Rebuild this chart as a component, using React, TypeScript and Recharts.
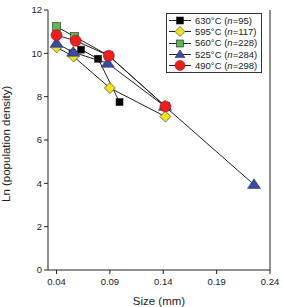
import {
  ScatterChart,
  Scatter,
  XAxis,
  YAxis,
  ReferenceLine,
} from "recharts";

// crystal size distribution per run temperature
const s630 = [
  { size: 0.055, ln: 10.0 },
  { size: 0.063, ln: 10.17 },
  { size: 0.079, ln: 9.75 },
  { size: 0.099, ln: 7.75 },
];
const s595 = [
  { size: 0.04, ln: 10.28 },
  { size: 0.056, ln: 9.85 },
  { size: 0.09, ln: 8.4 },
  { size: 0.142, ln: 7.08 },
];
const s560 = [
  { size: 0.04, ln: 11.23 },
  { size: 0.057, ln: 10.77 },
  { size: 0.089, ln: 9.89 },
  { size: 0.142, ln: 7.55 },
];
const s525 = [
  { size: 0.04, ln: 10.46 },
  { size: 0.0556, ln: 10.05 },
  { size: 0.088, ln: 9.54 },
  { size: 0.1416, ln: 7.55 },
  { size: 0.225, ln: 3.94 },
];
const s490 = [
  { size: 0.04, ln: 10.84 },
  { size: 0.058, ln: 10.58 },
  { size: 0.089, ln: 9.89 },
  { size: 0.142, ln: 7.55 },
];

const xTicks = [0.04, 0.09, 0.14, 0.19, 0.24];
const yTicks = [0, 2, 4, 6, 8, 10, 12];

const legendRows = [
  { temp: "630°C", n: "95", kind: "square", fill: "#000000" },
  { temp: "595°C", n: "117", kind: "diamond", fill: "#f2e318" },
  { temp: "560°C", n: "228", kind: "square", fill: "#5cb84a" },
  { temp: "525°C", n: "284", kind: "triangle", fill: "#3a4a9c" },
  { temp: "490°C", n: "298", kind: "circle", fill: "#e8201e" },
];

const font = "'Liberation Sans', Arial, sans-serif";

function marker(kind: string, fill: string, size: number) {
  return (props: any) => {
    const { cx, cy } = props;
    if (cx == null || cy == null) return <g />;
    if (kind === "square") {
      return (
        <rect x={cx - size / 2} y={cy - size / 2} width={size} height={size}
          fill={fill} stroke="#222" strokeWidth={0.6} />
      );
    }
    if (kind === "diamond") {
      const h = size / 2;
      return (
        <polygon points={`${cx},${cy - h} ${cx + h},${cy} ${cx},${cy + h} ${cx - h},${cy}`}
          fill={fill} stroke="#444" strokeWidth={0.7} />
      );
    }
    if (kind === "triangle") {
      const h = size / 2;
      return (
        <polygon points={`${cx},${cy - h * 0.9} ${cx + h},${cy + h * 0.6} ${cx - h},${cy + h * 0.6}`}
          fill={fill} stroke="#2a3580" strokeWidth={0.6} />
      );
    }
    return <circle cx={cx} cy={cy} r={size / 2} fill={fill} stroke="#a01010" strokeWidth={0.6} />;
  };
}

function LegendBox() {
  return (
    <div
      style={{
        position: "absolute",
        left: 166,
        top: 13,
        border: "1px solid #333",
        background: "#fff",
        padding: "1px 4px 1px 2px",
        fontFamily: font,
        fontSize: 9.5,
        color: "#222",
        lineHeight: "11.2px",
      }}
    >
      {legendRows.map((r) => (
        <div key={r.temp} style={{ display: "flex", alignItems: "center" }}>
          <svg width={22} height={11} style={{ marginRight: 4 }}>
            <line x1={0} y1={5.5} x2={22} y2={5.5} stroke="#222" strokeWidth={1} />
            {marker(r.kind, r.fill, r.kind === "square" ? 7 : 10)({ cx: 11, cy: 5.5 })}
          </svg>
          <span>
            {r.temp} (<i>n</i>={r.n})
          </span>
        </div>
      ))}
    </div>
  );
}

export default function App() {
  return (
    <div style={{ position: "absolute", left: 0, top: 0, background: "#fff" }}>
      <ScatterChart width={283} height={307} margin={{ top: 10, right: 13, bottom: 0, left: 0 }}>
        <XAxis
          type="number"
          dataKey="size"
          domain={[0.032, 0.24]}
          ticks={xTicks}
          tickFormatter={(v: number) => v.toFixed(2)}
          allowDataOverflow
          height={37}
          tickSize={4}
          tickMargin={4}
          stroke="#222"
          tick={{ fill: "#222", fontSize: 9.5, fontFamily: font }}
          label={{ value: "Size (mm)", position: "insideBottom", offset: 2, fill: "#222", fontSize: 11.5, fontFamily: font }}
        />
        <YAxis
          type="number"
          dataKey="ln"
          domain={[0, 12]}
          ticks={yTicks}
          width={48}
          tickSize={4}
          stroke="#222"
          tick={{ fill: "#222", fontSize: 9.5, fontFamily: font }}
          label={{ value: "Ln (population density)", angle: -90, position: "insideLeft", offset: 6, dy: 62, fill: "#222", fontSize: 11.5, fontFamily: font }}
        />
        <ReferenceLine x={0.24} stroke="#222" strokeWidth={1} />
        <Scatter data={s630} line={{ stroke: "#222", strokeWidth: 1 }} shape={marker("square", "#000000", 7)} isAnimationActive={false} />
        <Scatter data={s595} line={{ stroke: "#222", strokeWidth: 1 }} shape={marker("diamond", "#f2e318", 11)} isAnimationActive={false} />
        <Scatter data={s560} line={{ stroke: "#222", strokeWidth: 1 }} shape={marker("square", "#5cb84a", 8)} isAnimationActive={false} />
        <Scatter data={s525} line={{ stroke: "#222", strokeWidth: 1 }} shape={marker("triangle", "#3a4a9c", 13)} isAnimationActive={false} />
        <Scatter data={s490} line={{ stroke: "#222", strokeWidth: 1 }} shape={marker("circle", "#e8201e", 11)} isAnimationActive={false} />
      </ScatterChart>
      <LegendBox />
    </div>
  );
}
